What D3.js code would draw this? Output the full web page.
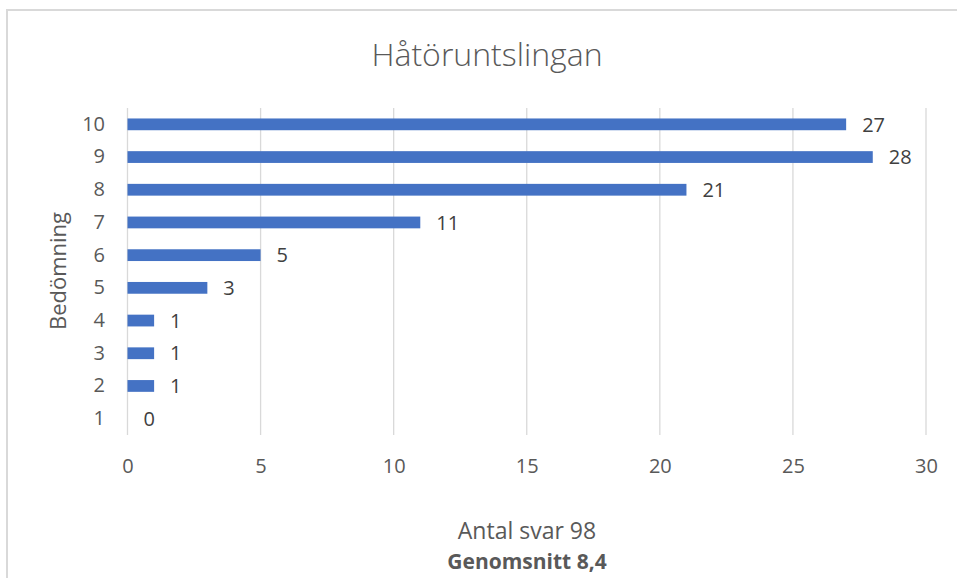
<!DOCTYPE html>
<html>
<head>
<meta charset="utf-8">
<script src="https://cdn.jsdelivr.net/npm/d3@7"></script>
<style>
  body { margin: 0; background: #fff; }
  text { font-family: "Open Sans", "Noto Sans", sans-serif; }
</style>
</head>
<body>
<div id="chart"></div>
<script>
// values
var ratings = ["10", "9", "8", "7", "6", "5", "4", "3", "2", "1"];
var counts = [27, 28, 21, 11, 5, 3, 1, 1, 1, 0];
var xTicks = [0, 5, 10, 15, 20, 25, 30];

var title = "Håtöruntslingan";
var yTitle = "Bedömning";
var xTitle = "Antal svar 98";
var xNote = "Genomsnitt 8,4";

var width = 957;
var height = 578;

var svg = d3.select("#chart")
    .append("svg")
    .attr("width", width)
    .attr("height", height);

// chart frame
svg.append("rect")
    .attr("x", 7)
    .attr("y", 10)
    .attr("width", 960)
    .attr("height", 580)
    .attr("fill", "none")
    .attr("stroke", "#d9d9d9")
    .attr("stroke-width", 2);

var x = d3.scaleLinear().domain([0, 30]).range([127.5, 926]);
var y = d3.scaleBand().domain(ratings).range([108, 435]).paddingInner(0.64).paddingOuter(0.32);

// grid
svg.append("g").selectAll("line")
    .data(xTicks)
    .enter().append("line")
    .attr("x1", function(d) { return x(d); })
    .attr("x2", function(d) { return x(d); })
    .attr("y1", 108)
    .attr("y2", 435)
    .attr("stroke", "#d9d9d9")
    .attr("stroke-width", 1.3);

var xAxis = svg.append("g")
    .attr("transform", "translate(0,435)")
    .call(d3.axisBottom(x).tickValues(xTicks).tickSize(0).tickPadding(24));
xAxis.select(".domain").remove();
xAxis.selectAll("text")
    .attr("fill", "#595959")
    .style("font-size", "20px");

var yAxis = svg.append("g")
    .attr("transform", "translate(105,0)")
    .call(d3.axisLeft(y).tickSize(0).tickPadding(0));
yAxis.select(".domain").remove();
yAxis.selectAll("text")
    .attr("fill", "#595959")
    .style("font-size", "20px");

var rows = ratings.map(function(r, i) { return { r: r, v: counts[i] }; });

svg.append("g").selectAll("rect")
    .data(rows)
    .enter().append("rect")
    .attr("x", x(0))
    .attr("y", function(d) { return y(d.r); })
    .attr("width", function(d) { return x(d.v) - x(0); })
    .attr("height", y.bandwidth())
    .attr("fill", "#4472c4");

svg.append("g").selectAll("text")
    .data(rows)
    .enter().append("text")
    .attr("x", function(d) { return x(d.v) + 16; })
    .attr("y", function(d) { return y(d.r) + y.bandwidth() / 2; })
    .attr("dy", "0.36em")
    .attr("fill", "#404040")
    .style("font-size", "20px")
    .text(function(d) { return d.v; });

svg.append("text")
    .attr("x", 487)
    .attr("y", 66)
    .attr("text-anchor", "middle")
    .attr("fill", "#595959")
    .style("font-size", "32px")
    .style("font-weight", 300)
    .text(title);

svg.append("text")
    .attr("transform", "translate(66,271) rotate(-90)")
    .attr("text-anchor", "middle")
    .attr("fill", "#595959")
    .style("font-size", "22px")
    .text(yTitle);

svg.append("text")
    .attr("x", 527)
    .attr("y", 539)
    .attr("text-anchor", "middle")
    .attr("fill", "#595959")
    .style("font-size", "23px")
    .text(xTitle);

svg.append("text")
    .attr("x", 527)
    .attr("y", 569)
    .attr("text-anchor", "middle")
    .attr("fill", "#595959")
    .style("font-size", "21px")
    .style("font-weight", "bold")
    .text(xNote);
</script>
</body>
</html>
